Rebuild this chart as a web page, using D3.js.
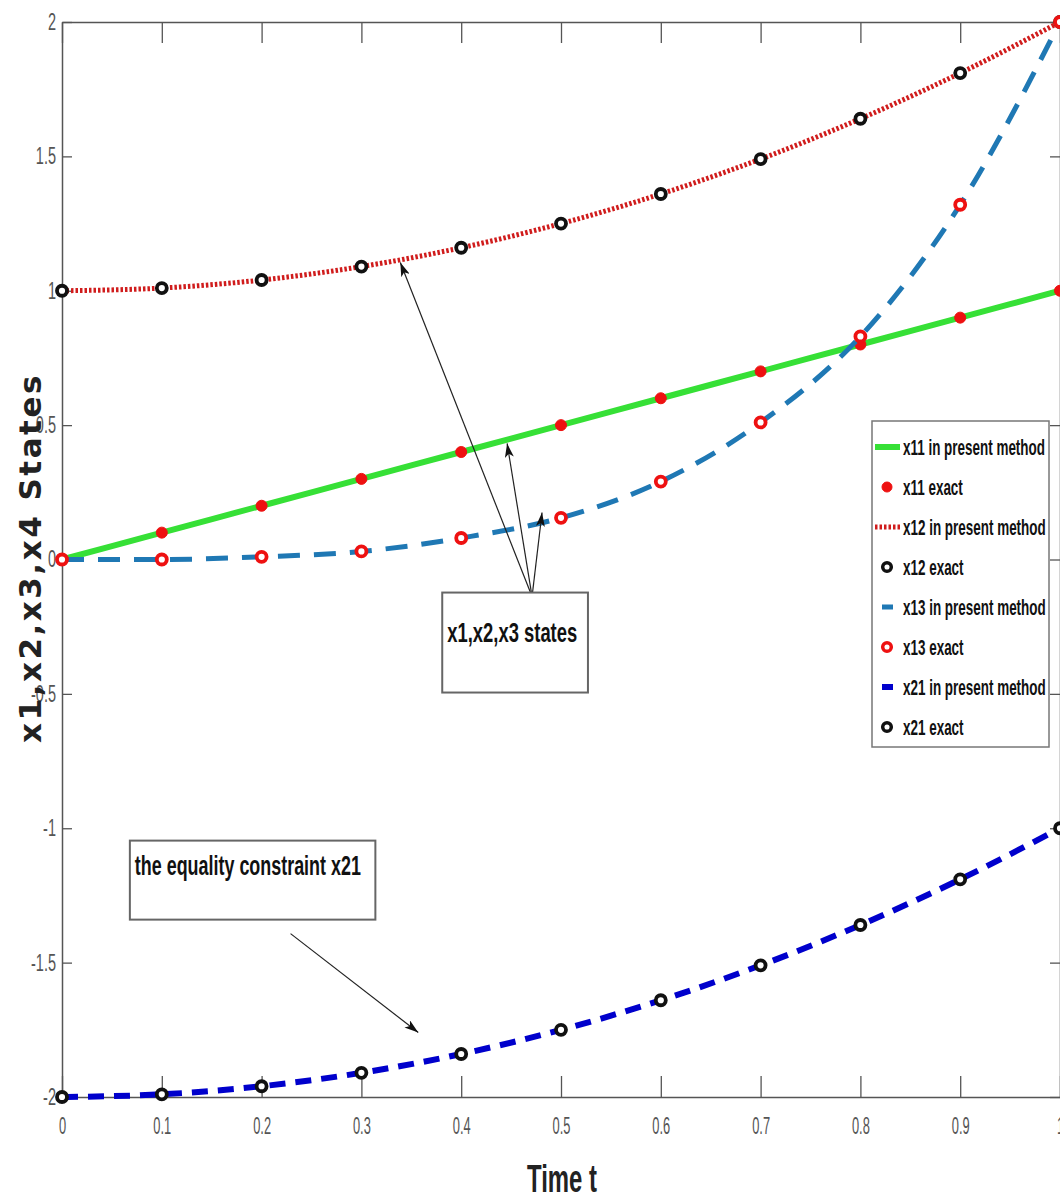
<!DOCTYPE html>
<html>
<head>
<meta charset="utf-8">
<script src="https://cdn.jsdelivr.net/npm/d3@7"></script>
<style>
  body { margin: 0; background: #fff; }
  svg { display: block; }
</style>
</head>
<body>
<div id="container"></div>
<script>
/* CONSTANTS AND GLOBALS */
const width = 1060;
const height = 1199;
const sans = "'Liberation Sans', Arial, sans-serif";

/* DATA */
const tValues = [0, 0.1, 0.2, 0.3, 0.4, 0.5, 0.6, 0.7, 0.8, 0.9, 1.0];
const x11 = [0, 0.1, 0.2, 0.3, 0.4, 0.5, 0.6, 0.7, 0.8, 0.9, 1.0];
const x12 = [1, 1.01, 1.04, 1.09, 1.16, 1.25, 1.36, 1.49, 1.64, 1.81, 2.0];
const x13 = [0, 0.0, 0.01, 0.03, 0.08, 0.155, 0.29, 0.51, 0.83, 1.32, 2.0];
const x21 = [-2, -1.99, -1.96, -1.91, -1.84, -1.75, -1.64, -1.51, -1.36, -1.19, -1.0];
const xTicks = [0, 0.1, 0.2, 0.3, 0.4, 0.5, 0.6, 0.7, 0.8, 0.9, 1];
const xTickLabels = ["0", "0.1", "0.2", "0.3", "0.4", "0.5", "0.6", "0.7", "0.8", "0.9", "1"];
const yTicks = [-2, -1.5, -1, -0.5, 0, 0.5, 1, 1.5, 2];
const yTickLabels = ["-2", "-1.5", "-1", "-0.5", "0", "0.5", "1", "1.5", "2"];
const legendLabels = ["x11 in present method", "x11 exact", "x12 in present method", "x12 exact",
                      "x13 in present method", "x13 exact", "x21 in present method", "x21 exact"];

// squeeze text horizontally by factor k (the picture has tall narrow lettering)
function squeeze(sel, k) {
  sel.each(function() {
    const w = this.getComputedTextLength();
    d3.select(this).attr("textLength", w * k).attr("lengthAdjust", "spacingAndGlyphs");
  });
}
function factorFor(sel, target) {
  return target / sel.node().getComputedTextLength();
}

const svg = d3.select("#container")
  .append("svg")
  .attr("width", width)
  .attr("height", height);

// SCALES
const x = d3.scaleLinear().domain([0, 1]).range([62, 1060]);
const y = d3.scaleLinear().domain([-2, 2]).range([1097, 22]);

// AXES (box with inward ticks)
function styleAxis(g) {
  g.selectAll("path.domain").attr("stroke", "#555").attr("stroke-width", 1.5);
  g.selectAll(".tick line").attr("stroke", "#555").attr("stroke-width", 1.3);
  g.selectAll("text").attr("fill", "#555").style("font-family", sans).style("font-size", "23px");
}

const xAxis = svg.append("g")
  .attr("transform", `translate(0,${y(-2)})`)
  .call(d3.axisBottom(x).tickValues(xTicks).tickSize(-21).tickSizeOuter(0).tickPadding(21)
    .tickFormat((d, i) => xTickLabels[i]))
  .call(styleAxis);
squeeze(xAxis.selectAll("text"), 0.56);

svg.append("g")
  .attr("transform", `translate(0,${y(2)})`)
  .call(d3.axisTop(x).tickValues(xTicks).tickSize(-21).tickSizeOuter(0).tickFormat(""))
  .call(styleAxis);

const yAxis = svg.append("g")
  .attr("transform", `translate(${x(0)},0)`)
  .call(d3.axisLeft(y).tickValues(yTicks).tickSize(-10).tickSizeOuter(0).tickPadding(6)
    .tickFormat((d, i) => yTickLabels[i]))
  .call(styleAxis);
squeeze(yAxis.selectAll("text"), 0.63);

svg.append("g")
  .attr("transform", `translate(${x(1)},0)`)
  .call(d3.axisRight(y).tickValues(yTicks).tickSize(-10).tickSizeOuter(0).tickFormat(""))
  .call(styleAxis);

// AXIS LABELS
const xl = svg.append("text")
  .attr("x", 562).attr("y", 1192)
  .attr("text-anchor", "middle")
  .style("font-family", sans).style("font-size", "38px").style("font-weight", "bold")
  .attr("fill", "#222")
  .text("Time t");
squeeze(xl, factorFor(xl, 70));

svg.append("text")
  .attr("transform", "translate(41,558) rotate(-90)")
  .attr("text-anchor", "middle")
  .style("font-family", "'DejaVu Sans', sans-serif").style("font-size", "31px").style("font-weight", "bold")
  .style("letter-spacing", "2.5px")
  .attr("fill", "#222")
  .text("x1,x2,x3,x4 States");

// SERIES
const series = [
  { vals: x11, color: "#36e036", width: 6, dash: null, mColor: "#ee1111", mFill: "#ee1111" },
  { vals: x12, color: "#d01c1c", width: 5, dash: "2.5,2", mColor: "#111", mFill: "#fff" },
  { vals: x13, color: "#1f78b4", width: 5, dash: "22,14", mColor: "#ee1111", mFill: "#fff" },
  { vals: x21, color: "#0000cc", width: 6, dash: "16,10", mColor: "#111", mFill: "#fff" }
];

const line = d3.line()
  .x((d, i) => x(tValues[i]))
  .y(d => y(d))
  .curve(d3.curveMonotoneX);

series.forEach(s => {
  svg.append("path")
    .datum(s.vals)
    .attr("d", line)
    .attr("fill", "none")
    .attr("stroke", s.color)
    .attr("stroke-width", s.width)
    .attr("stroke-dasharray", s.dash);

  svg.append("g").selectAll("circle")
    .data(s.vals)
    .enter()
    .append("circle")
    .attr("cx", (d, i) => x(tValues[i]))
    .attr("cy", d => y(d))
    .attr("r", s.mFill === "#fff" ? 5 : 5.5)
    .attr("fill", s.mFill)
    .attr("stroke", s.mColor)
    .attr("stroke-width", s.mFill === "#fff" ? 3.8 : 1);
});

// ANNOTATIONS (data units)
const arrowStart = [0.471, -0.138];
const arrowTips = [[0.339, 1.105], [0.446, 0.432], [0.481, 0.175]];

svg.append("defs").append("marker")
  .attr("id", "head")
  .attr("viewBox", "0 0 14 9")
  .attr("refX", 14).attr("refY", 4.5)
  .attr("markerWidth", 14).attr("markerHeight", 9)
  .attr("markerUnits", "userSpaceOnUse")
  .attr("orient", "auto")
  .append("path")
  .attr("d", "M0,0 L14,4.5 L0,9 L3.5,4.5 Z")
  .attr("fill", "#111");

arrowTips.forEach(tip => {
  svg.append("line")
    .attr("x1", x(arrowStart[0])).attr("y1", y(arrowStart[1]))
    .attr("x2", x(tip[0])).attr("y2", y(tip[1]))
    .attr("stroke", "#222").attr("stroke-width", 1.2)
    .attr("marker-end", "url(#head)");
});

function noteBox(x0, x1, y0, y1, label, fontSize, baseline, target) {
  svg.append("rect")
    .attr("x", x(x0)).attr("y", y(y0))
    .attr("width", x(x1) - x(x0)).attr("height", y(y1) - y(y0))
    .attr("fill", "#fff").attr("stroke", "#666").attr("stroke-width", 2);
  const t = svg.append("text")
    .attr("x", x(x0) + 5).attr("y", baseline)
    .style("font-family", sans).style("font-size", fontSize + "px").style("font-weight", "bold")
    .attr("fill", "#111")
    .text(label);
  squeeze(t, factorFor(t, target));
}

noteBox(0.381, 0.527, -0.123, -0.495, "x1,x2,x3 states", 27, 642, 130);
noteBox(0.068, 0.314, -1.046, -1.34, "the equality constraint x21", 27, 875, 226);

svg.append("line")
  .attr("x1", x(0.229)).attr("y1", y(-1.392))
  .attr("x2", x(0.357)).attr("y2", y(-1.76))
  .attr("stroke", "#222").attr("stroke-width", 1.2)
  .attr("marker-end", "url(#head)");

// LEGEND
const legend = svg.append("g");
legend.append("rect")
  .attr("x", 872).attr("y", 421).attr("width", 177).attr("height", 326)
  .attr("fill", "#fff").attr("stroke", "#777").attr("stroke-width", 1.5);

let legendK = null;
legendLabels.forEach((lab, i) => {
  const s = series[Math.floor(i / 2)];
  const ry = 447 + i * 40;
  if (i % 2 === 0) {
    legend.append("line")
      .attr("x1", 875).attr("x2", 900).attr("y1", ry).attr("y2", ry)
      .attr("stroke", s.color).attr("stroke-width", s.width)
      .attr("stroke-dasharray", s.dash === "22,14" || s.dash === "16,10" ? "0,7,11,7" : s.dash);
  } else {
    legend.append("circle")
      .attr("cx", 887).attr("cy", ry)
      .attr("r", s.mFill === "#fff" ? 4.3 : 5)
      .attr("fill", s.mFill).attr("stroke", s.mColor)
      .attr("stroke-width", s.mFill === "#fff" ? 3.5 : 1);
  }
  const t = legend.append("text")
    .attr("x", 903).attr("y", ry + 8)
    .style("font-family", sans).style("font-size", "22px").style("font-weight", "bold")
    .attr("fill", "#111")
    .text(lab);
  if (legendK === null) legendK = factorFor(t, 142);
  squeeze(t, legendK);
});
</script>
</body>
</html>
